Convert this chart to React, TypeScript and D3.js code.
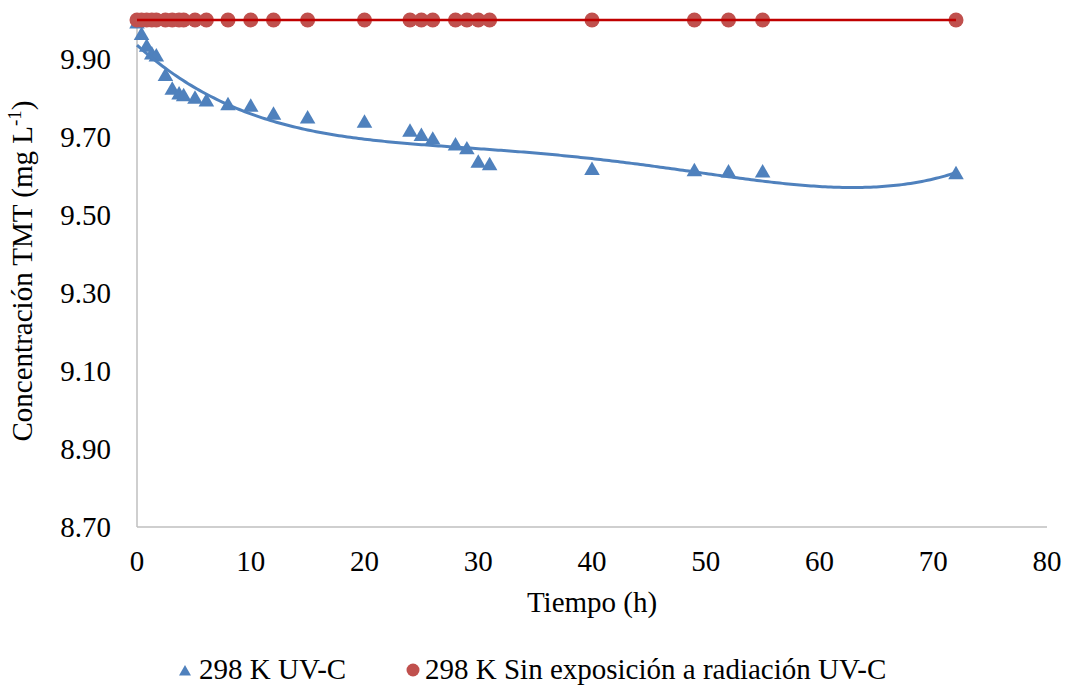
import React from "react";
import * as d3 from "d3";

const times = [0, 0.4, 0.85, 1.3, 1.7, 2.5, 3.1, 3.7, 4.1, 5.1, 6.1, 8, 10, 12, 15, 20, 24, 25, 26, 28, 29, 30, 31, 40, 49, 52, 55, 72];
const uvValues = [9.99, 9.96, 9.93, 9.91, 9.905, 9.855, 9.82, 9.808, 9.803, 9.797, 9.79, 9.78, 9.776, 9.756, 9.746, 9.735, 9.712, 9.701, 9.692, 9.677, 9.667, 9.633, 9.626, 9.614, 9.611, 9.608, 9.608, 9.603];
const darkValues = times.map(() => 10.0);
const xTicks = [0, 10, 20, 30, 40, 50, 60, 70, 80];
const yTicks = [8.7, 8.9, 9.1, 9.3, 9.5, 9.7, 9.9];
const seriesNames = ["298 K UV-C", "298 K Sin exposición a radiación UV-C"];

const W = 1065, H = 688;
const FONT = "Times New Roman, serif";
const FS = 29;
const BLUE = "#4F81BD";
const RED = "#C0504D";
const RED_LINE = "#C00000";
const AXIS = "#BFBFBF";

// least squares polynomial trendline (order 4)
function polyfit(xs: number[], ys: number[], deg: number, scale: number) {
  const n = deg + 1;
  const A: number[][] = Array.from({ length: n }, () => new Array(n + 1).fill(0));
  xs.forEach((x0, k) => {
    const x = x0 / scale;
    const p: number[] = [];
    for (let i = 0; i < n; i++) p.push(Math.pow(x, i));
    for (let i = 0; i < n; i++) {
      for (let j = 0; j < n; j++) A[i][j] += p[i] * p[j];
      A[i][n] += p[i] * ys[k];
    }
  });
  for (let c = 0; c < n; c++) {
    let piv = c;
    for (let r = c + 1; r < n; r++) if (Math.abs(A[r][c]) > Math.abs(A[piv][c])) piv = r;
    [A[c], A[piv]] = [A[piv], A[c]];
    for (let r = 0; r < n; r++) {
      if (r === c) continue;
      const f = A[r][c] / A[c][c];
      for (let j = c; j <= n; j++) A[r][j] -= f * A[c][j];
    }
  }
  const coef = A.map((row, i) => row[n] / row[i]);
  return (x0: number) => {
    const x = x0 / scale;
    let s = 0;
    for (let i = n - 1; i >= 0; i--) s = s * x + coef[i];
    return s;
  };
}

export default function App() {
  const x = d3.scaleLinear().domain([0, 80]).range([137, 1047]);
  const y = d3.scaleLinear().domain([8.7, 10.0]).range([527, 20]);

  const tMax = d3.max(times) as number;
  const line = d3.line<[number, number]>().x((d) => x(d[0])).y((d) => y(d[1]));
  const fit = polyfit(times, uvValues, 4, 72);
  const curve = line(d3.range(0, tMax + 0.001, 0.25).map((t) => [t, fit(t)] as [number, number])) || "";

  const tri = d3.symbol(d3.symbolTriangle, 105)() as string;
  const triLegend = d3.symbol(d3.symbolTriangle, 62)() as string;

  const uvPts = times.map((t, i) => [t, uvValues[i]] as [number, number]);
  const darkPts = times.map((t, i) => [t, darkValues[i]] as [number, number]);
  const darkFit = polyfit(times, darkValues, 1, 72);

  const T = (p: any) => <text fontFamily={FONT} fontSize={FS} fill="#000" {...p} />;

  return (
    <svg width={W} height={H} style={{ position: "absolute", left: 0, top: 0, background: "#fff" }}>
      <rect width={W} height={H} fill="#fff" />
      <line x1={x(0)} x2={x(0)} y1={y(8.7)} y2={y(10.0)} stroke={AXIS} strokeWidth={1.5} />
      <line x1={x(0)} x2={x(80)} y1={y(8.7)} y2={y(8.7)} stroke={AXIS} strokeWidth={1.5} />
      {yTicks.map((v) => (
        <T key={v} x={111} y={y(v)} dy="0.35em" textAnchor="end">{v.toFixed(2)}</T>
      ))}
      {xTicks.map((v) => (
        <T key={v} x={x(v)} y={571} textAnchor="middle">{v}</T>
      ))}
      <T x={592} y={612} textAnchor="middle">Tiempo (h)</T>
      <T transform="translate(32,271) rotate(-90)" textAnchor="middle">
        Concentración TMT (mg L<tspan dy={-11} fontSize={19}>-1</tspan><tspan dy={11}>)</tspan>
      </T>

      {uvPts.map((d, i) => (
        <path key={"u" + i} d={tri} transform={`translate(${x(d[0])},${y(d[1])})`} fill={BLUE} />
      ))}
      <path d={curve} fill="none" stroke={BLUE} strokeWidth={3} />

      {darkPts.map((d, i) => (
        <circle key={"d" + i} cx={x(d[0])} cy={y(d[1])} r={7.5} fill={RED} />
      ))}
      <line x1={x(0)} x2={x(tMax)} y1={y(darkFit(0))} y2={y(darkFit(tMax))} stroke={RED_LINE} strokeWidth={2.5} />

      <path d={triLegend} transform="translate(185,672)" fill={BLUE} />
      <T x={199} y={679}>{seriesNames[0]}</T>
      <circle cx={413} cy={670} r={6.5} fill={RED} />
      <T x={425} y={679}>{seriesNames[1]}</T>
    </svg>
  );
}
